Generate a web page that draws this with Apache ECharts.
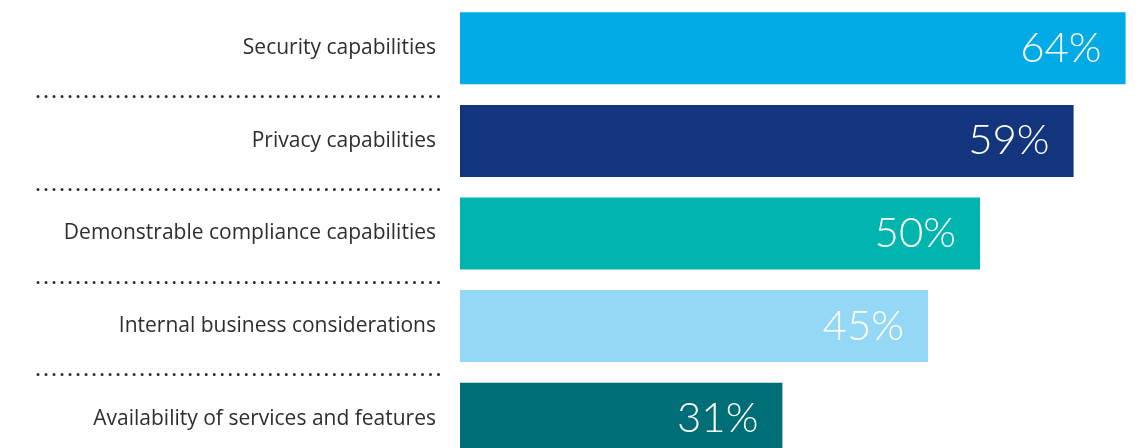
<!DOCTYPE html>
<html>
<head>
<meta charset="utf-8">
<script src="https://cdn.jsdelivr.net/npm/echarts@6/dist/echarts.min.js"></script>
<style>
html,body{margin:0;padding:0;background:#fff;}
#chart{width:1147px;height:448px;}
</style>
</head>
<body>
<div id="chart"></div>
<script>
const categories = [
  "Security capabilities",
  "Privacy capabilities",
  "Demonstrable compliance capabilities",
  "Internal business considerations",
  "Availability of services and features"
];
const values = [64, 59, 50, 45, 31];
const barColors = ["#02ABE6", "#12357D", "#00B5AE", "#94D8F6", "#006E76"];

const chart = echarts.init(document.getElementById('chart'));
chart.setOption({
  animation: false,
  backgroundColor: '#ffffff',
  grid: [
    {left: 460, right: 11, top: 2, height: 463, outerBoundsMode: 'none', containLabel: false},
    {left: 38, right: 708, top: 4, height: 463, outerBoundsMode: 'none', containLabel: false}
  ],
  xAxis: [
    {type: 'value', gridIndex: 0, min: 0, max: 65, show: false},
    {type: 'value', gridIndex: 1, min: 0, max: 1, show: false}
  ],
  yAxis: [
    {
      type: 'category', gridIndex: 0, data: categories, inverse: true,
      axisLine: {show: false}, axisTick: {show: false}, splitLine: {show: false},
      axisLabel: {
        margin: 24, color: '#2e2e2e', fontSize: 21,
        fontFamily: '"Open Sans", sans-serif'
      }
    },
    {
      type: 'category', gridIndex: 1, data: categories, inverse: true,
      axisLine: {show: false}, axisTick: {show: false}, axisLabel: {show: false},
      splitLine: {
        show: true,
        interval: function (idx) { return idx > 0; },
        lineStyle: {color: '#2e2e2e', width: 3, type: [0.01, 8], cap: 'round'}
      }
    }
  ],
  series: [{
    type: 'bar',
    xAxisIndex: 0, yAxisIndex: 0,
    barWidth: 72,
    data: values.map((v, i) => ({value: v, itemStyle: {color: barColors[i]}})),
    label: {
      show: true,
      position: 'insideRight',
      distance: 24,
      color: '#ffffff',
      fontSize: 42,
      fontWeight: 300,
      fontFamily: 'Lato, "Open Sans", sans-serif',
      formatter: '{c}%'
    }
  }]
});
</script>
</body>
</html>
